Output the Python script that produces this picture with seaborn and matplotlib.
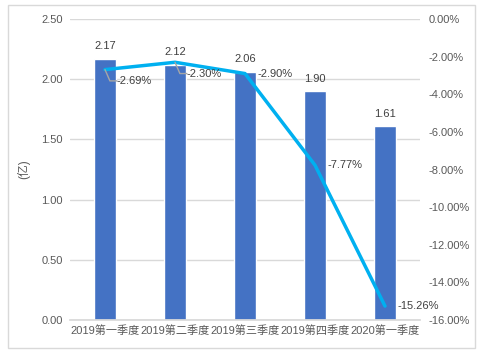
import matplotlib
matplotlib.use("Agg")
import matplotlib.pyplot as plt
import seaborn as sns
import pandas as pd
import numpy as np
from matplotlib.patches import Rectangle

categories = ["2019第一季度", "2019第二季度", "2019第三季度", "2019第四季度", "2020第一季度"]
values = [2.17, 2.12, 2.06, 1.90, 1.61]
growth = [-2.69, -2.30, -2.90, -7.77, -15.26]
left_ticks = [0.0, 0.5, 1.0, 1.5, 2.0, 2.5]
right_ticks = [0, -2, -4, -6, -8, -10, -12, -14, -16]

sns.set_theme(style="white")
plt.rcParams['font.family'] = ['Liberation Sans', 'Noto Sans CJK SC', 'DejaVu Sans']
txt = "#595959"

df = pd.DataFrame({"cat": categories, "val": values, "g": growth, "pos": np.arange(len(categories))})

fig = plt.figure(figsize=(4.86, 3.56), dpi=100)
fig.patches.append(Rectangle((8/486, 1-348/356), 467/486, 343/356, transform=fig.transFigure,
                             fill=False, edgecolor="#d9d9d9", linewidth=1))
ax = fig.add_axes([70/486, 1-320/356, 350/486, 301/356])
sns.barplot(data=df, x="cat", y="val", color="#4472C4", width=0.314, ax=ax, saturation=1)
ax.set_ylim(0, 2.5)
ax.set_xlim(-0.5, 4.5)
ax.set_yticks(left_ticks)
ax.set_yticklabels([f"{t:.2f}" for t in left_ticks])
ax.yaxis.grid(True, color="#d9d9d9", linewidth=1)
ax.set_axisbelow(True)
for s in ["top", "right", "left"]:
    ax.spines[s].set_visible(False)
ax.spines["bottom"].set_color("#d9d9d9")
ax.set_xlabel("")
ax.set_ylabel("(亿)", color=txt, fontsize=8.5, labelpad=8)
ax.tick_params(axis="both", colors=txt, labelsize=8, length=0)
ax.tick_params(axis="y", pad=5)
for i, v in enumerate(values):
    ax.text(i, v + 0.105, f"{v:.2f}", ha="center", va="center", fontsize=8, color="#404040")

ax2 = ax.twinx()
sns.lineplot(data=df, x="pos", y="g", color="#00B0F0", linewidth=2.5, ax=ax2)
ax2.set_ylim(-16, 0)
ax2.set_xlim(-0.5, 4.5)
ax2.set_yticks(right_ticks)
ax2.set_yticklabels([f"{t:.2f}%" for t in right_ticks])
ax2.tick_params(axis="y", colors=txt, labelsize=8, length=0, pad=6)
ax2.set_ylabel("")
for s in ax2.spines.values():
    s.set_visible(False)

# line labels
for i, g in enumerate(growth):
    if i < 2:
        ax2.plot([i, i + 0.07, i + 0.17], [g, g - 0.6, g - 0.6], color="#a6a6a6", linewidth=1)
        ax2.text(i + 0.17, g - 0.6, f"{g:.2f}%", ha="left", va="center", fontsize=8, color="#404040")
    else:
        ax2.text(i + 0.18, g, f"{g:.2f}%", ha="left", va="center", fontsize=8, color="#404040")

fig.savefig("out.png", dpi=100)
